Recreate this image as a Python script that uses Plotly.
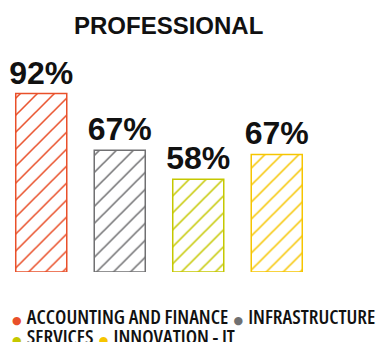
import plotly.graph_objects as go

categories = ["ACCOUNTING AND FINANCE", "INFRASTRUCTURE", "SERVICES", "INNOVATION - IT"]
bar_heights = [92, 62.7, 47.8, 60.6]
pct_labels = ["92%", "67%", "58%", "67%"]
colors = ["#e9502a", "#707072", "#c5c800", "#f6c500"]
title_text = "PROFESSIONAL"

fig = go.Figure()
fig.add_trace(go.Bar(
    x=categories,
    y=bar_heights,
    text=pct_labels,
    textposition="outside",
    texttemplate="<b>%{text}</b>",
    textfont=dict(family="Liberation Sans", size=32, color="#111111"),
    constraintext="none",
    cliponaxis=False,
    marker=dict(
        color="white",
        line=dict(color=colors, width=1.5),
        pattern=dict(shape="/", fgcolor=colors, bgcolor="white", size=12,
                     solidity=0.13, fillmode="replace"),
    ),
    showlegend=False,
    hoverinfo="skip",
))

fig.update_layout(
    width=380, height=342,
    margin=dict(l=2, r=64, t=78, b=70),
    paper_bgcolor="white", plot_bgcolor="white",
    bargap=0.35,
    xaxis=dict(visible=False, range=[-0.5, 3.5]),
    yaxis=dict(visible=False, range=[0, 100]),
)

# title
fig.add_annotation(
    text="<b>" + title_text + "</b>", xref="paper", yref="paper",
    x=(168 - 2) / 314, y=1, xanchor="center", yanchor="middle", yshift=53,
    showarrow=False, font=dict(family="Liberation Sans", size=24, color="#111111"),
)

def bullet(c):
    return '<span style="font-family:DejaVu Sans;font-size:11px;font-stretch:100%%;font-weight:400;fill:%s">●</span>' % c

def item(t):
    return '<span style="font-stretch:75%;font-weight:600">' + t + '</span>'

row1 = bullet(colors[0]) + " " + item(categories[0]) + " " + bullet(colors[1]) + " " + item(categories[1])
row2 = bullet(colors[2]) + " " + item(categories[2]) + " " + bullet(colors[3]) + " " + item(categories[3])
for txt, ys in [(row1, -44), (row2, -64)]:
    fig.add_annotation(
        text=txt, xref="paper", yref="paper", x=0, y=0, xanchor="left",
        yanchor="middle", xshift=8, yshift=ys, showarrow=False,
        font=dict(family="Open Sans", size=20, color="#111111"),
    )

fig.write_html("out.html", post_script="document.body.style.margin='0';",
               config={"displayModeBar": False})
